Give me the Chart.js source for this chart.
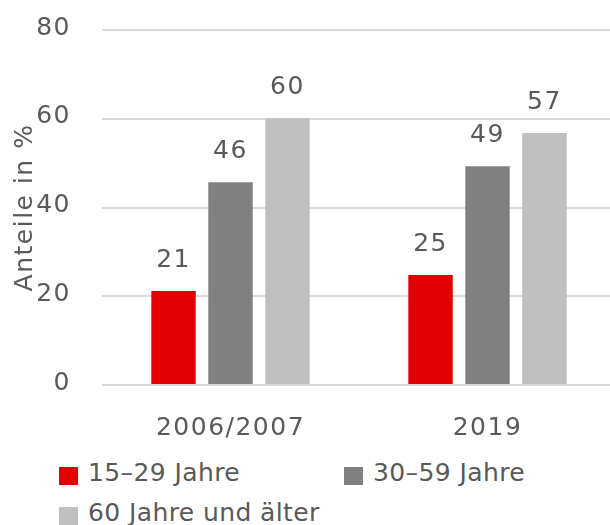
<!DOCTYPE html>
<html>
<head>
<meta charset="utf-8">
<script src="https://cdn.jsdelivr.net/npm/chart.js@4.4.1/dist/chart.umd.min.js"></script>
<style>
  html, body { margin: 0; padding: 0; background: #fff; }
  #wrap { position: relative; width: 610px; height: 525px; overflow: hidden;
          font-family: "DejaVu Sans", sans-serif; color: #595959; }
  #chartBox { position: absolute; left: 0; top: 0; width: 616px; height: 450px; }
  .lg { position: absolute; font-size: 25px; line-height: 25px; white-space: nowrap; letter-spacing: 0.4px; }
  .lg i { position: absolute; left: 0; top: 7px; width: 19px; height: 18px; }
  .lg span { position: absolute; left: 29px; top: 0; }
</style>
</head>
<body>
<div id="wrap">
  <div id="chartBox"><canvas id="c" width="616" height="450"></canvas></div>
  <div id="legend"></div>
</div>
<script>
const categories = ['2006/2007', '2019'];
const seriesNames = ['15–29 Jahre', '30–59 Jahre', '60 Jahre und älter'];
const young = [21.2, 24.8];
const middle = [45.7, 49.3];
const old = [60.1, 56.8];
const yTicks = [0, 20, 40, 60, 80];
const colors = ['#e30000', '#808080', '#bfbfbf'];

const FONT = '"DejaVu Sans", sans-serif';
const TEXT = '#595959';

// slightly wider text, like the reference
const spacing = {
  id: 'spacing',
  beforeDraw(chart) { chart.ctx.letterSpacing = '1.5px'; }
};

// value labels above each bar
const barLabels = {
  id: 'barLabels',
  afterDatasetsDraw(chart) {
    const ctx = chart.ctx;
    ctx.save();
    ctx.font = '25px ' + FONT;
    ctx.fillStyle = TEXT;
    ctx.textAlign = 'center';
    ctx.textBaseline = 'alphabetic';
    chart.data.datasets.forEach((ds, i) => {
      chart.getDatasetMeta(i).data.forEach((bar, j) => {
        ctx.fillText(String(Math.round(ds.data[j])), bar.x, bar.y - 24);
      });
    });
    ctx.restore();
  }
};

new Chart(document.getElementById('c'), {
  type: 'bar',
  data: {
    labels: categories,
    datasets: [young, middle, old].map((d, i) => ({
      label: seriesNames[i],
      data: d,
      backgroundColor: colors[i],
      borderWidth: 0,
      categoryPercentage: 0.665,
      barPercentage: 0.78,
    }))
  },
  options: {
    responsive: false,
    animation: false,
    layout: { padding: { top: 30, left: 0, right: 0, bottom: 0 } },
    plugins: { legend: { display: false }, tooltip: { enabled: false } },
    scales: {
      x: {
        grid: { display: false },
        border: { display: false },
        ticks: { color: TEXT, font: { family: FONT, size: 25 }, padding: 20 },
        afterFit: s => { s.height = 65; }
      },
      y: {
        min: 0, max: 80,
        afterBuildTicks: s => { s.ticks = yTicks.map(v => ({ value: v })); },
        grid: { color: '#d9d9d9', lineWidth: 2, drawTicks: false },
        border: { display: false },
        ticks: { color: TEXT, font: { family: FONT, size: 25 }, padding: 31, labelOffset: -2 },
        title: { display: true, text: 'Anteile in %', color: TEXT,
                 font: { family: FONT, size: 25 }, padding: { top: 10, bottom: 0 } },
        afterFit: s => { s.width = 102; s.paddingTop = 0; s.paddingBottom = 0; }
      }
    }
  },
  plugins: [spacing, barLabels]
});

// html legend, laid out like the reference (two columns, wraps)
const legendPos = [[59, 460], [344, 460], [59, 500]];
const lg = document.getElementById('legend');
seriesNames.forEach((name, i) => {
  const d = document.createElement('div');
  d.className = 'lg';
  d.style.left = legendPos[i][0] + 'px';
  d.style.top = legendPos[i][1] + 'px';
  d.innerHTML = '<i style="background:' + colors[i] + '"></i><span></span>';
  d.querySelector('span').textContent = name;
  lg.appendChild(d);
});
</script>
</body>
</html>
